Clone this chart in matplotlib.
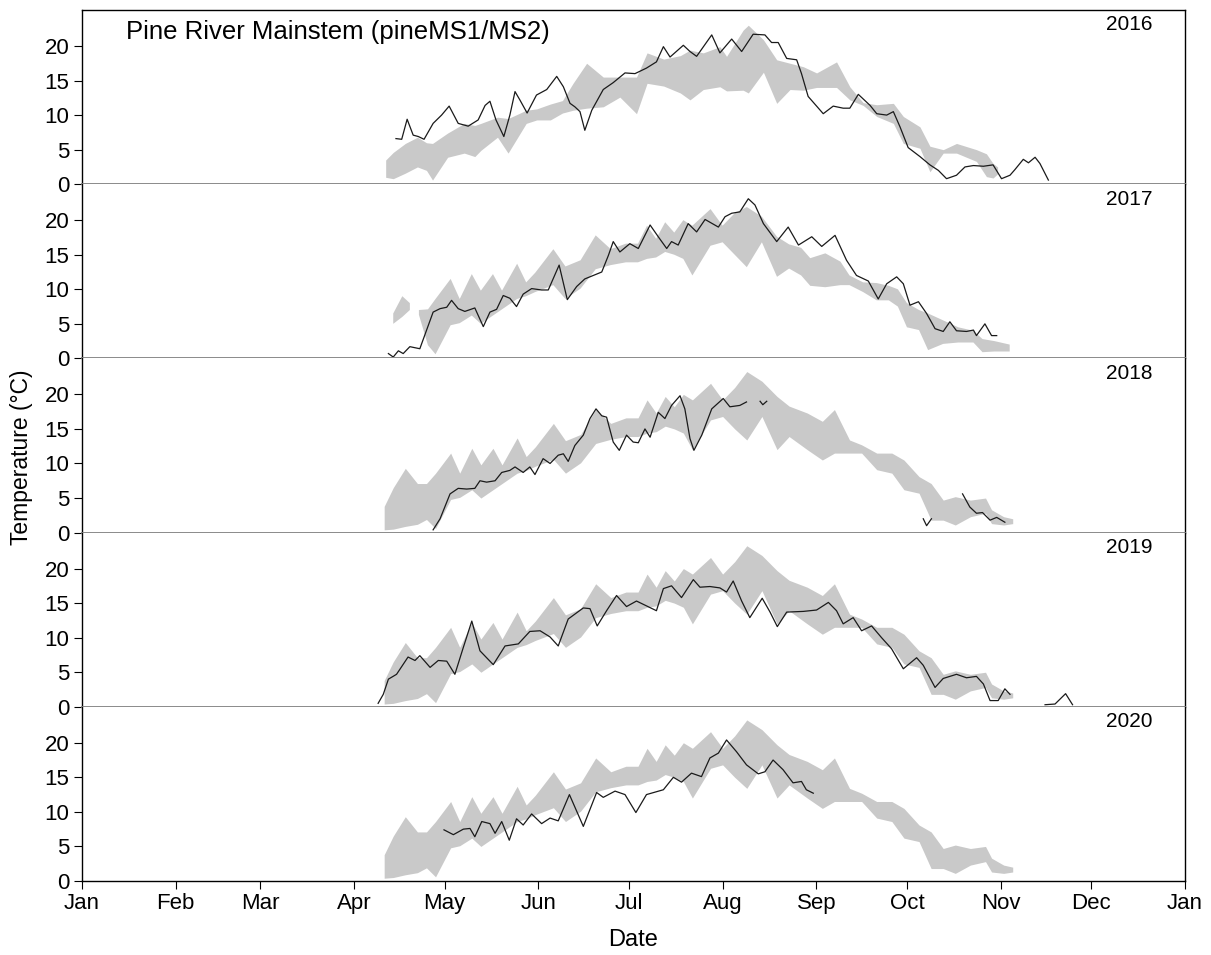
import numpy as np
import matplotlib
matplotlib.use("Agg")
import matplotlib.pyplot as plt

plt.rcParams['font.family'] = ['Liberation Sans', 'DejaVu Sans']

nan = np.nan

years = [2016, 2017, 2018, 2019, 2020]
month_starts = [0, 31, 59, 90, 120, 151, 181, 212, 243, 273, 304, 334, 365]
month_labels = ["Jan", "Feb", "Mar", "Apr", "May", "Jun", "Jul", "Aug",
                "Sep", "Oct", "Nov", "Dec", "Jan"]
y_ticks = [0, 5, 10, 15, 20]

# grey envelope (day of year, low, high) -- same for 2018-2020
band_doy = [100, 103, 107, 111, 114, 117, 122, 125, 129, 132, 136, 139, 144, 147,
            150, 156, 160, 165, 170, 175, 180, 184, 187, 190, 193, 196, 199, 202,
            208, 212, 216, 220, 225, 230, 234, 240, 245, 249, 254, 258, 263, 268,
            272, 277, 281, 285, 289, 294, 299, 301, 305, 308]
band_lo = [0.4, 0.5, 0.9, 1.2, 1.9, 0.6, 4.8, 5.1, 6.2, 5.0, 6.2, 7.1, 8.6, 9.0,
           9.6, 10.6, 8.6, 10.1, 12.9, 13.5, 13.9, 13.9, 14.4, 14.6, 15.4, 15.0, 14.4, 12.0,
           16.3, 16.8, 15.0, 13.4, 16.8, 12.0, 13.9, 12.0, 10.5, 11.5, 11.5, 11.5, 9.1, 8.6,
           6.2, 5.7, 1.8, 1.8, 1.1, 2.3, 2.8, 1.3, 1.1, 1.3]
band_hi = [3.8, 6.5, 9.3, 7.1, 7.1, 8.6, 11.5, 8.6, 12.2, 9.8, 12.2, 9.8, 13.7, 11.0,
           12.4, 15.8, 13.3, 14.2, 17.8, 15.8, 16.6, 16.6, 19.2, 17.3, 19.7, 18.2, 20.0, 19.2,
           21.6, 19.2, 21.0, 23.3, 21.9, 19.7, 18.3, 17.3, 16.1, 17.8, 13.4, 12.7, 11.5, 11.5,
           10.5, 8.1, 7.1, 4.7, 5.2, 4.7, 5.0, 3.3, 2.3, 2.0]

band_2016_doy = [100.5, 103, 107, 111, 114, 116, 121, 126.5, 130, 132, 137.5, 141, 147,
                 150.5, 155, 159, 162.5, 167, 172.5, 178, 183.5, 187, 192.5, 198, 201.2,
                 205.6, 211.1, 213.3, 218.8, 220.5, 225.5, 229.9, 234.3, 238.7, 243.1,
                 249.7, 254.1, 258.5, 263, 268.5, 271.8, 277.3, 280.6, 285, 289.4, 296,
                 299.3, 301.5, 303]
band_2016_lo = [1.0, 0.8, 1.6, 2.5, 2.0, 0.6, 3.9, 4.5, 4.0, 4.9, 6.8, 4.5, 8.8,
                9.3, 9.3, 10.3, 10.7, 11.0, 11.2, 12.6, 10.2, 14.6, 14.2, 13.2, 12.2,
                13.7, 14.1, 13.5, 13.6, 13.2, 16.2, 11.7, 13.7, 13.6, 14.0,
                14.0, 12.2, 11.4, 9.8, 8.8, 5.9, 5.2, 1.8, 4.5, 4.5, 3.3,
                1.1, 0.9, 1.5]
band_2016_hi = [3.5, 4.6, 5.9, 6.8, 6.0, 5.9, 7.4, 8.8, 8.5, 8.8, 9.7, 9.5, 10.7,
                10.9, 11.6, 12.1, 14.6, 17.5, 15.5, 15.5, 15.5, 19.0, 18.1, 18.6, 19.4,
                19.0, 19.9, 18.5, 22.3, 23.0, 20.9, 18.0, 17.5, 17.0, 16.1,
                17.7, 14.1, 11.8, 11.5, 11.7, 9.8, 8.3, 5.5, 5.0, 5.9, 5.0,
                4.4, 3.0, 2.5]

band_2017_doy = [103, 106, 108.5, 110, 111.5, 114.5, 117, 122, 125, 129, 132, 136, 139,
                 144, 147, 150, 156, 160, 165, 170, 175, 180, 184, 187, 190, 193, 196,
                 199, 202, 208, 212, 216, 220, 225, 230, 234, 238, 241, 246, 251, 254,
                 258.5, 263, 267, 270, 273, 277, 280, 285, 290, 295, 298, 302, 307]
band_2017_lo = [5.0, 6.0, 7.0, nan, 6.3, 1.9, 0.6, 4.8, 5.1, 6.2, 5.0, 6.2, 7.1,
                8.6, 9.0, 9.6, 10.6, 8.6, 10.1, 12.9, 13.5, 13.9, 13.9, 14.4, 14.6, 15.4, 15.0,
                14.4, 12.0, 16.3, 16.8, 15.0, 13.2, 16.8, 11.8, 13.0, 12.0, 10.5, 10.3, 10.6, 10.6,
                9.6, 8.4, 8.4, 7.5, 4.5, 4.1, 1.2, 2.1, 2.3, 2.3, 0.9, 1.0, 1.0]
band_2017_hi = [6.5, 9.0, 8.0, nan, 7.0, 7.1, 8.6, 11.5, 8.6, 12.2, 9.8, 12.2, 9.8,
                13.7, 11.0, 12.4, 15.8, 13.3, 14.2, 17.8, 15.8, 16.6, 16.6, 19.2, 17.3, 19.7, 18.2,
                20.0, 19.2, 21.6, 19.2, 21.0, 21.9, 20.5, 17.6, 16.5, 16.0, 14.5, 15.2, 14.0, 12.0,
                11.0, 10.9, 10.5, 10.0, 8.0, 7.0, 6.5, 5.5, 4.5, 4.0, 2.8, 2.5, 2.0]

# black line: daily water temperature for the year (nan = gap)
line_2016_doy = [103.9, 105.8, 107.6, 109.6, 111.3, 113.2, 116.2, 119, 121.5, 124.5, 127.8,
                 131.1, 133.4, 135, 137, 139.6, 141.6, 143.3, 144.9, 147.3, 150.4, 153.8,
                 157.1, 159.3, 161.5, 163.1, 164.8, 166.4, 168.7, 172.5, 175.8, 179.7, 183,
                 186.8, 190.1, 192.4, 194.6, 199, 201.2, 203.4, 208.4, 211.1, 215, 218.3,
                 222.1, 226, 228.2, 230.4, 233.2, 236.5, 238.1, 240.3, 243.1, 245.3, 248.6,
                 251.9, 254.1, 256.9, 260.8, 263, 266.3, 268.5, 270.7, 273.4, 277.3, 280.6,
                 283.4, 286.1, 289.4, 292.2, 295, 298.3, 301.5, 304.3, 307.1, 308.7, 311.5,
                 313.2, 315.4, 317, 319.8]
line_2016_t = [6.6, 6.5, 9.4, 7.1, 6.9, 6.5, 8.8, 10.0, 11.3, 8.8, 8.4,
               9.3, 11.4, 12.0, 9.3, 6.9, 10.0, 13.4, 12.2, 10.3, 12.9, 13.7,
               15.6, 14.1, 11.7, 11.2, 10.5, 7.8, 10.7, 13.7, 14.7, 16.1, 16.0,
               16.8, 17.7, 19.9, 18.4, 20.1, 19.2, 18.5, 21.6, 19.0, 21.0, 19.2,
               21.7, 21.6, 20.5, 20.5, 18.2, 18.0, 16.0, 12.7, 11.3, 10.2, 11.3,
               11.0, 11.0, 13.0, 11.4, 10.2, 10.0, 10.5, 8.3, 5.3, 4.0, 2.8,
               2.0, 0.8, 1.3, 2.5, 2.7, 2.6, 2.8, 0.8, 1.3, 2.1, 3.6,
               3.1, 3.9, 3.0, 0.6]

line_2017_doy = [101.4, 103, 104.7, 106.3, 108.5, 111.8, 116.2, 118.5, 120.7, 122.3, 124.5,
                 126.7, 130, 132.8, 135, 137.2, 139.4, 141.6, 143.8, 146, 148.8, 152.1,
                 154.3, 157.9, 160.6, 163.7, 166.4, 169.2, 172, 174.2, 175.8, 178, 181.3,
                 184.1, 188, 190.7, 193.5, 195.1, 197.3, 200.6, 203.4, 206.2, 210.6, 212.8,
                 215, 217.7, 220.5, 222.7, 225.5, 229.9, 233.7, 237.1, 241.5, 244.8, 249.2,
                 253, 256.3, 260.2, 263.5, 266.3, 269.6, 271.8, 274, 276.8, 279.5, 282.3,
                 285, 287.2, 289.4, 292.7, 295, 296, 298.8, 301, 302.7]
line_2017_t = [0.7, 0.2, 1.1, 0.7, 1.7, 1.4, 6.7, 7.2, 7.4, 8.4, 7.2,
               6.8, 7.3, 4.6, 6.7, 7.1, 9.1, 8.7, 7.5, 9.3, 10.1, 9.9,
               9.9, 13.5, 8.5, 10.4, 11.5, 12.0, 12.5, 14.9, 16.9, 15.4, 16.6,
               15.9, 19.3, 17.6, 15.9, 16.9, 16.4, 19.5, 18.3, 20.1, 19.0, 20.5,
               21.0, 21.2, 23.1, 22.2, 19.5, 16.9, 19.0, 16.4, 17.6, 16.2, 17.8,
               14.2, 12.0, 11.2, 8.6, 10.8, 11.8, 10.8, 7.7, 8.2, 6.5, 4.3,
               3.9, 5.3, 4.0, 3.9, 4.1, 3.3, 5.0, 3.3, 3.3]

line_2018_doy = [116.2, 118.5, 121.8, 124.5, 127.3, 130, 131.7, 133.9, 136.7, 138.9, 141.6,
                 143.3, 146, 148.2, 149.9, 152.6, 154.9, 157.6, 159.3, 160.9, 163.1, 165.9,
                 168.1, 170.1, 172, 173.6, 175.8, 177.8, 180.2, 182.4, 184.1, 186.3, 188,
                 190.7, 192.9, 195.1, 197.9, 199.5, 201.2, 202.5, 205.1, 208.4, 212.2, 214.4,
                 217.7, 219.9, nan, 224.4, 225.3, 226.6, nan, 278.4, 279.5, 281.1, nan,
                 291.4, 293.8, 296, 298, 300.5, 302.7, 305.4]
line_2018_t = [0.4, 2.0, 5.6, 6.4, 6.3, 6.4, 7.5, 7.3, 7.5, 8.7, 9.0,
               9.5, 8.7, 9.5, 8.4, 10.7, 10.0, 11.2, 11.4, 10.3, 12.6, 14.1,
               16.5, 17.9, 16.9, 16.7, 13.1, 11.9, 14.1, 13.1, 13.0, 15.0, 13.8,
               17.4, 16.5, 18.4, 19.8, 17.9, 13.6, 11.9, 14.1, 17.9, 19.4, 18.2,
               18.4, 18.9, nan, 19.0, 18.5, 19.0, nan, 2.0, 1.0, 2.0, nan,
               5.6, 3.7, 2.8, 2.9, 1.8, 2.2, 1.5]

line_2019_doy = [98, 99.7, 101.4, 104.1, 107.9, 110.2, 111.8, 115.2, 117.9, 120.7, 123.4,
                 126.2, 129, 131.7, 136.1, 140, 144.4, 148.2, 151.6, 154.9, 157.6, 160.9,
                 165.9, 168.1, 170.5, 173.6, 176.9, 180.2, 183.5, 186.8, 190.1, 192.4, 195.1,
                 198.4, 202.3, 204.5, 207.8, 211.1, 213.3, 215.5, 218.3, 221, 225.1, 227.7,
                 230.1, 233.2, 238.7, 243.1, 247, 249.7, 251.9, 255.2, 258, 261.3, 264.6,
                 267.9, 271.8, 276.2, 278.4, 282.3, 285, 289.4, 292.7, 296, 298.3, 300.5,
                 303.2, 305.4, 307.1, nan, 318.7, 322, 325.5, 327.8]
line_2019_t = [0.5, 1.8, 4.0, 4.7, 7.2, 6.7, 7.4, 5.7, 6.7, 6.6, 4.7,
               8.6, 12.4, 8.1, 6.1, 8.8, 9.1, 10.9, 11.0, 10.1, 8.8, 12.7,
               14.3, 14.2, 11.7, 13.9, 16.1, 14.5, 15.3, 14.6, 13.9, 17.1, 17.5,
               15.8, 18.4, 17.3, 17.4, 17.2, 16.6, 18.2, 15.3, 12.9, 15.7, 13.7,
               11.6, 13.7, 13.8, 14.0, 15.1, 13.9, 12.0, 12.9, 11.0, 11.7, 10.0,
               8.4, 5.5, 7.1, 6.0, 2.8, 4.1, 4.7, 4.2, 4.4, 3.3, 0.9,
               0.9, 2.6, 1.8, nan, 0.3, 0.4, 1.9, 0.3]

line_2020_doy = [119.8, 122.9, 126.2, 128.4, 130, 132.3, 135, 136.7, 138.9, 141.4, 143.8,
                 146, 148.8, 152.1, 154.9, 157.6, 161.3, 165.9, 170.3, 172.5, 176.4, 179.7,
                 183.3, 186.8, 192.4, 195.7, 198.4, 201.7, 205, 207.8, 210.6, 213.3, 216.6,
                 219.9, 223.8, 226, 228.7, 232, 235.3, 238.1, 239.7, 242]
line_2020_t = [7.4, 6.7, 7.5, 7.6, 6.4, 8.6, 8.3, 6.9, 8.6, 5.9, 9.0,
               8.1, 9.7, 8.3, 9.1, 8.7, 12.5, 7.9, 12.8, 12.1, 13.0, 12.5,
               9.9, 12.5, 13.2, 15.0, 14.3, 15.6, 15.1, 17.8, 18.5, 20.4, 18.7,
               16.8, 15.5, 15.8, 17.5, 16.1, 14.2, 14.4, 13.2, 12.7]

bands = [(band_2016_doy, band_2016_lo, band_2016_hi),
         (band_2017_doy, band_2017_lo, band_2017_hi),
         (band_doy, band_lo, band_hi),
         (band_doy, band_lo, band_hi),
         (band_doy, band_lo, band_hi)]
lines = [(line_2016_doy, line_2016_t), (line_2017_doy, line_2017_t),
         (line_2018_doy, line_2018_t), (line_2019_doy, line_2019_t),
         (line_2020_doy, line_2020_t)]

fig, axes = plt.subplots(5, 1, figsize=(12.11, 9.55), dpi=100, sharex=True)
fig.subplots_adjust(left=0.0677, right=0.9785, top=0.9895, bottom=0.0775, hspace=0)

for i, ax in enumerate(axes):
    bd, lo, hi = bands[i]
    ax.fill_between(np.array(bd), np.array(lo), np.array(hi),
                    color="#c9c9c9", linewidth=0)
    ld, lt = lines[i]
    ax.plot(np.array(ld), np.array(lt), color="#1a1a1a", lw=0.9)

    ax.set_xlim(0, 365)
    ax.set_ylim(0, 25.2)
    ax.set_yticks(y_ticks)
    ax.tick_params(axis="y", direction="out", length=6, width=0.8,
                   labelsize=16, pad=3)
    ax.text(0.971, 0.915, str(years[i]), transform=ax.transAxes,
            ha="right", va="center", fontsize=15)

    for side in ["left", "right"]:
        ax.spines[side].set_color("black")
        ax.spines[side].set_linewidth(1.0)
    if i > 0:
        ax.spines["top"].set_visible(False)
    else:
        ax.spines["top"].set_linewidth(1.0)
    if i < 4:
        ax.spines["bottom"].set_color("#8a8a8a")
        ax.spines["bottom"].set_linewidth(1.4)
        ax.tick_params(axis="x", length=0)
    else:
        ax.spines["bottom"].set_linewidth(1.0)

axes[-1].set_xticks(month_starts)
axes[-1].set_xticklabels(month_labels)
axes[-1].tick_params(axis="x", direction="out", length=6, width=0.8,
                     labelsize=16, pad=3)

axes[0].text(0.040, 0.874, "Pine River Mainstem (pineMS1/MS2)",
             transform=axes[0].transAxes, ha="left", va="center", fontsize=18.5)

fig.text(0.523, 0.016, "Date", ha="center", va="center", fontsize=17)
fig.text(0.018, 0.521, "Temperature (°C)", ha="center", va="center",
         rotation=90, fontsize=16.5)

fig.savefig("out.png", dpi=100)
